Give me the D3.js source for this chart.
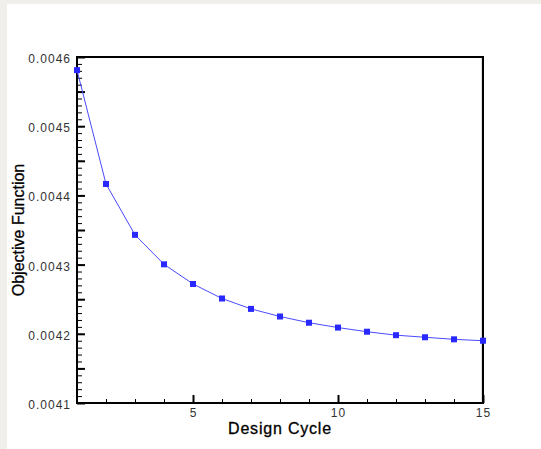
<!DOCTYPE html>
<html>
<head>
<meta charset="utf-8">
<script src="https://cdn.jsdelivr.net/npm/d3@7"></script>
<style>
  body { margin: 0; background: #f0efec; }
  svg { display: block; }
</style>
</head>
<body>
<svg id="chart" width="541" height="449"></svg>
<script>
// design cycle vs objective function
var cycles = [1, 2, 3, 4, 5, 6, 7, 8, 9, 10, 11, 12, 13, 14, 15];
var objective = [0.004581, 0.0044165, 0.004343, 0.0043004, 0.004272, 0.004251, 0.004236,
  0.004225, 0.004216, 0.004209, 0.004203, 0.004198, 0.004195, 0.004192, 0.004190];
var xLabelTicks = [5, 10, 15];
var yLabelTicks = [0.0041, 0.0042, 0.0043, 0.0044, 0.0045, 0.0046];

var margin = {left: 77, top: 57, right: 58, bottom: 46};
var width = 541 - margin.left - margin.right;
var height = 449 - margin.top - margin.bottom;

var svg = d3.select("#chart");

// white panel on top of the grey page
svg.append("rect")
  .attr("x", 7).attr("y", 4)
  .attr("width", 534).attr("height", 445)
  .attr("fill", "#fff");

var g = svg.append("g")
  .attr("transform", "translate(" + margin.left + "," + margin.top + ")");

var x = d3.scaleLinear().domain([1, 15]).range([0, width]);
var y = d3.scaleLinear().domain([0.0041, 0.0046]).range([height, 0]);

// tick positions: minor every step, major every half label step
var xMinor = d3.range(1, 16);
var yMinor = d3.range(0, 51).map(function(i) { return 0.0041 + i * 0.00001; });
var yMajor = d3.range(0, 11).map(function(i) { return 0.0041 + i * 0.00005; });

function styleTicks(sel, w) {
  sel.select(".domain").remove();
  sel.selectAll(".tick line").attr("stroke", "#000").attr("stroke-width", w);
  sel.selectAll(".tick text").remove();
}

g.append("g")
  .call(d3.axisLeft(y).tickValues(yMinor).tickSize(-5).tickFormat(""))
  .call(styleTicks, 1);
g.append("g")
  .call(d3.axisLeft(y).tickValues(yMajor).tickSize(-8).tickFormat(""))
  .call(styleTicks, 2);

g.append("g")
  .attr("transform", "translate(0," + height + ")")
  .call(d3.axisBottom(x).tickValues(xMinor).tickSize(-4).tickFormat(""))
  .call(styleTicks, 1);
g.append("g")
  .attr("transform", "translate(0," + height + ")")
  .call(d3.axisBottom(x).tickValues(xLabelTicks).tickSize(-8).tickFormat(""))
  .call(styleTicks, 2);

// labels
var fmt = d3.format(".4f");
var yAxis = g.append("g")
  .call(d3.axisLeft(y).tickValues(yLabelTicks).tickSize(0).tickPadding(6).tickFormat(fmt));
yAxis.select(".domain").remove();
yAxis.selectAll("text")
  .attr("font-family", "Liberation Sans, Arial, sans-serif")
  .attr("font-size", 12)
  .attr("letter-spacing", 1)
  .attr("fill", "#333")
  .attr("dy", "0.45em");

var xAxis = g.append("g")
  .attr("transform", "translate(0," + height + ")")
  .call(d3.axisBottom(x).tickValues(xLabelTicks).tickSize(0).tickPadding(5));
xAxis.select(".domain").remove();
xAxis.selectAll("text")
  .attr("font-family", "Liberation Sans, Arial, sans-serif")
  .attr("font-size", 12)
  .attr("letter-spacing", 1)
  .attr("fill", "#333");

// frame
g.append("line")
  .attr("x1", width - 1).attr("x2", width - 1)
  .attr("y1", 0).attr("y2", height)
  .attr("stroke", "#bbb").attr("stroke-width", 1);
g.append("rect")
  .attr("width", width).attr("height", height)
  .attr("fill", "none").attr("stroke", "#000").attr("stroke-width", 2);

// the curve
var pts = cycles.map(function(c, i) { return [c, objective[i]]; });
g.append("path")
  .datum(pts)
  .attr("fill", "none")
  .attr("stroke", "#4a4aff")
  .attr("stroke-width", 1)
  .attr("d", d3.line().x(function(d) { return x(d[0]); }).y(function(d) { return y(d[1]); }));

g.selectAll("rect.pt")
  .data(pts)
  .enter().append("rect")
  .attr("class", "pt")
  .attr("x", function(d) { return x(d[0]) - 3; })
  .attr("y", function(d) { return y(d[1]) - 3; })
  .attr("width", 6).attr("height", 6)
  .attr("fill", "#2828ff");

// axis titles
svg.append("text")
  .attr("x", margin.left + width / 2)
  .attr("y", 434)
  .attr("text-anchor", "middle")
  .attr("font-family", "Liberation Sans, Arial, sans-serif")
  .attr("font-size", 16)
  .attr("letter-spacing", 0.8)
  .attr("fill", "#000")
  .attr("stroke", "#000").attr("stroke-width", 0.3)
  .text("Design Cycle");

svg.append("text")
  .attr("transform", "translate(24," + (margin.top + height / 2) + ") rotate(-90)")
  .attr("text-anchor", "middle")
  .attr("font-family", "Liberation Sans, Arial, sans-serif")
  .attr("font-size", 16)
  .attr("fill", "#000")
  .attr("stroke", "#000").attr("stroke-width", 0.3)
  .text("Objective Function");
</script>
</body>
</html>
